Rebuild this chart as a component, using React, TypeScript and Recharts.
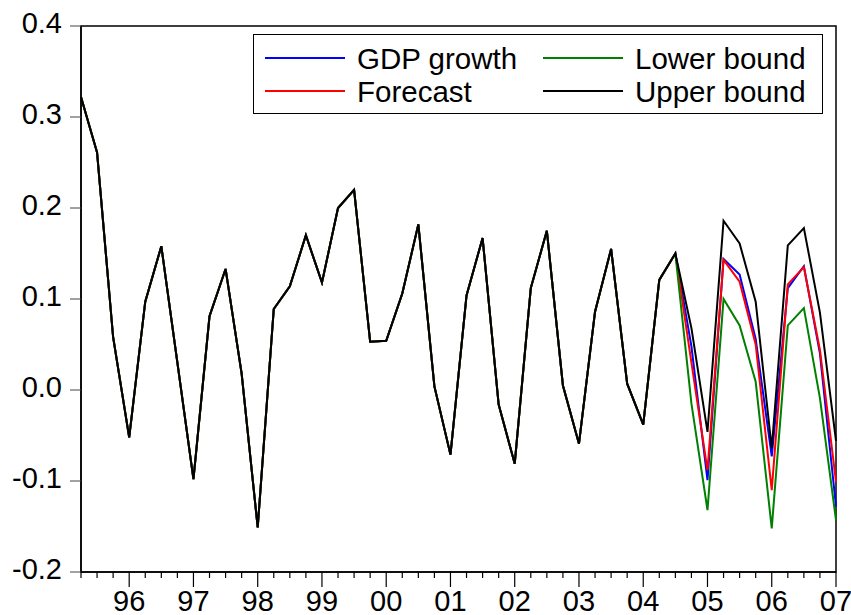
import React from 'react';
import { LineChart, Line, XAxis, YAxis, ReferenceArea } from 'recharts';

// quarterly observations, 1995Q2 .. 2007Q1
const quarters = [
    '1995Q2', '1995Q3', '1995Q4',
    '1996Q1', '1996Q2', '1996Q3', '1996Q4',
    '1997Q1', '1997Q2', '1997Q3', '1997Q4',
    '1998Q1', '1998Q2', '1998Q3', '1998Q4',
    '1999Q1', '1999Q2', '1999Q3', '1999Q4',
    '2000Q1', '2000Q2', '2000Q3', '2000Q4',
    '2001Q1', '2001Q2', '2001Q3', '2001Q4',
    '2002Q1', '2002Q2', '2002Q3', '2002Q4',
    '2003Q1', '2003Q2', '2003Q3', '2003Q4',
    '2004Q1', '2004Q2', '2004Q3', '2004Q4',
    '2005Q1', '2005Q2', '2005Q3', '2005Q4',
    '2006Q1', '2006Q2', '2006Q3', '2006Q4',
    '2007Q1',
];

// in-sample: all four series coincide (1995Q2 .. 2004Q3)
const history = [
    0.322, 0.261, 0.058, -0.052, 0.097, 0.158, 0.030, -0.098, 0.081, 0.133,
    0.018, -0.151, 0.089, 0.114, 0.170, 0.118, 0.200, 0.220, 0.053, 0.054,
    0.106, 0.182, 0.004, -0.071, 0.104, 0.167, -0.016, -0.081, 0.112, 0.175,
    0.005, -0.059, 0.086, 0.155, 0.007, -0.038, 0.121, 0.150,
];

// forecast window 2004Q4 .. 2007Q1
const gdpTail = [0.048, -0.099, 0.144, 0.127, 0.056, -0.073, 0.112, 0.136, 0.040, -0.128];
const forecastTail = [0.030, -0.088, 0.143, 0.119, 0.050, -0.110, 0.116, 0.135, 0.044, -0.101];
const lowerTail = [-0.015, -0.132, 0.100, 0.071, 0.009, -0.152, 0.071, 0.090, -0.009, -0.143];
const upperTail = [0.068, -0.046, 0.186, 0.161, 0.097, -0.064, 0.159, 0.178, 0.085, -0.056];

const yTicks = [-0.2, -0.1, 0.0, 0.1, 0.2, 0.3, 0.4];

const series = [
    { key: 'gdp', name: 'GDP growth', color: '#0000ff' },
    { key: 'forecast', name: 'Forecast', color: '#ff0000' },
    { key: 'lower', name: 'Lower bound', color: '#008000' },
    { key: 'upper', name: 'Upper bound', color: '#000000' },
];

const data = quarters.map((q, i) => {
    const h = history[i];
    const j = i - history.length;
    return {
        q,
        gdp: j < 0 ? h : gdpTail[j],
        forecast: j < 0 ? h : forecastTail[j],
        lower: j < 0 ? h : lowerTail[j],
        upper: j < 0 ? h : upperTail[j],
    };
});

const FONT = '"Liberation Sans", Arial, sans-serif';

const QuarterTick = (props: any) => {
    const { x, y, payload } = props;
    const label: string = payload.value;
    const isYear = label.endsWith('Q1');
    return (
        <g>
            <line x1={x} y1={y} x2={x} y2={y + (isYear ? 15 : 6)} stroke="#000" strokeWidth={1.2} />
            {isYear && (
                <text x={x} y={y + 39} textAnchor="middle" fontSize={29} fontFamily={FONT} fill="#000">
                    {label.slice(2, 4)}
                </text>
            )}
        </g>
    );
};

const LegendBox = () => {
    // two columns, two rows
    const cols = [12, 290];
    const rows = [24, 57];
    return (
        <div
            style={{
                position: 'absolute',
                left: 253,
                top: 34,
                width: 570,
                height: 80,
                border: '1px solid #000',
                background: '#fff',
                boxSizing: 'border-box',
                fontFamily: FONT,
                fontSize: 29.5,
            }}
        >
            {series.map((s, idx) => {
                const col = cols[Math.floor(idx / 2)];
                const row = rows[idx % 2];
                return (
                    <React.Fragment key={s.key}>
                        <div
                            style={{
                                position: 'absolute',
                                left: col - 1,
                                top: row - 2,
                                width: 80,
                                height: 2,
                                background: s.color,
                            }}
                        />
                        <div
                            style={{
                                position: 'absolute',
                                left: col + 91,
                                top: row - 15,
                                lineHeight: '29px',
                                whiteSpace: 'nowrap',
                                color: '#000',
                            }}
                        >
                            {s.name}
                        </div>
                    </React.Fragment>
                );
            })}
        </div>
    );
};

export default function App() {
    return (
        <div style={{ position: 'absolute', left: 0, top: 0, width: 851, height: 615, background: '#fff' }}>
            <LineChart
                width={851}
                height={615}
                data={data}
                margin={{ top: 26, right: 15, bottom: 0, left: 0 }}
            >
                <XAxis
                    dataKey="q"
                    interval={0}
                    height={43}
                    tickSize={0}
                    tickMargin={0}
                    tick={<QuarterTick />}
                    axisLine={{ stroke: '#000', strokeWidth: 1.5 }}
                />
                <YAxis
                    domain={[-0.2, 0.4]}
                    ticks={yTicks}
                    width={81}
                    tickSize={11}
                    tickMargin={8}
                    tickFormatter={(v: number) => v.toFixed(1)}
                    tick={{ fontSize: 29, fontFamily: FONT, fill: '#000', dy: -3 }}
                    tickLine={{ stroke: '#444' }}
                    axisLine={{ stroke: '#000', strokeWidth: 1.5 }}
                />
                <ReferenceArea
                    x1={quarters[0]}
                    x2={quarters[quarters.length - 1]}
                    y1={-0.2}
                    y2={0.4}
                    fill="none"
                    stroke="#000"
                    strokeWidth={1.5}
                    ifOverflow="visible"
                />
                {series.map(s => (
                    <Line
                        key={s.key}
                        type="linear"
                        dataKey={s.key}
                        name={s.name}
                        stroke={s.color}
                        strokeWidth={2}
                        dot={false}
                        activeDot={false}
                        isAnimationActive={false}
                    />
                ))}
            </LineChart>
            <LegendBox />
        </div>
    );
}
